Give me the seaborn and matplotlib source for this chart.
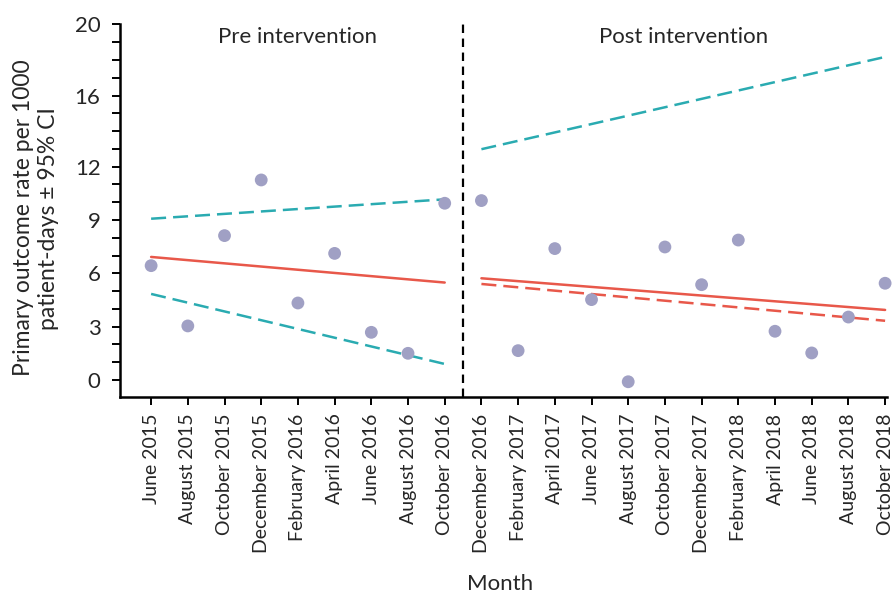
import matplotlib
matplotlib.use("Agg")
import matplotlib.pyplot as plt
import seaborn as sns
import pandas as pd
import numpy as np

# Monthly observations (every second month)
months = [
    "June 2015", "August 2015", "October 2015", "December 2015", "February 2016",
    "April 2016", "June 2016", "August 2016", "October 2016",
    "December 2016", "February 2017", "April 2017", "June 2017", "August 2017",
    "October 2017", "December 2017", "February 2018", "April 2018", "June 2018",
    "August 2018", "October 2018",
]
rates = [
    6.43, 3.04, 8.12, 11.25, 4.33, 7.12, 2.68, 1.50, 9.94,
    10.09, 1.65, 7.39, 4.52, -0.10, 7.48, 5.36, 7.87, 2.74, 1.52, 3.54, 5.44,
]

# Segment end points (month index, value)
pre_idx = [0, 8]
pre_fit = [6.92, 5.48]
pre_upper = [9.07, 10.16]
pre_lower = [4.84, 0.90]

post_idx = [9, 20]
post_fit = [5.72, 3.94]
post_counterfactual = [5.40, 3.33]
post_upper = [12.98, 18.17]

ytick_values = [0, 3, 6, 9, 12, 16, 20]

RED = "#e8584a"
TEAL = "#2aabb1"
DOT = "#a0a0c4"

sns.set_theme(style="ticks")
plt.rcParams["font.family"] = ["Lato", "DejaVu Sans"]

fig = plt.figure(figsize=(8.95, 5.95), dpi=100)
ax = fig.add_axes([0.134, 0.333, 0.857, 0.626])

points = pd.DataFrame({"idx": np.arange(len(months)), "rate": rates})
sns.scatterplot(data=points, x="idx", y="rate", ax=ax, color=DOT, s=85,
                edgecolor="none", zorder=3, clip_on=False)

def segment(xs, ys, color, dashes=None):
    seg = pd.DataFrame({"idx": xs, "val": ys})
    line = sns.lineplot(data=seg, x="idx", y="val", ax=ax, color=color, lw=1.8)
    ln = line.get_lines()[-1]
    if dashes is not None:
        ln.set_dashes(dashes)

segment(pre_idx, pre_fit, RED)
segment(pre_idx, pre_upper, TEAL, (6, 2.8))
segment(pre_idx, pre_lower, TEAL, (6, 2.8))
segment(post_idx, post_fit, RED)
segment(post_idx, post_counterfactual, RED, (6, 2.8))
segment(post_idx, post_upper, TEAL, (6, 2.8))

ax.axvline(8.5, color="black", lw=1.6, dashes=(3.8, 2.5))

ax.set_xlim(-0.85, 20.05)
ax.set_ylim(-0.95, 20)
ax.set_xticks(np.arange(len(months)))
ax.set_xticklabels(months, rotation=90, fontsize=14)
ticks = np.arange(0, 21)
ax.set_yticks(ticks)
ax.set_yticklabels([str(t) if t in ytick_values else "" for t in ticks], fontsize=16)
ax.tick_params(axis="both", direction="out", length=6, width=1.4, color="black")
ax.tick_params(axis="x", pad=6)
ax.tick_params(axis="y", pad=8)

for side in ("top", "right"):
    ax.spines[side].set_visible(False)
for side in ("left", "bottom"):
    ax.spines[side].set_linewidth(1.8)
    ax.spines[side].set_color("black")

ax.set_xlabel("Month", fontsize=16)
ax.xaxis.set_label_coords(0.496, -0.475)
ax.set_ylabel("Primary outcome rate per 1000\npatient-days ± 95% CI", fontsize=16.5)
ax.yaxis.set_label_coords(-0.080, 0.48)

ax.text(4.0, 19.3, "Pre intervention", ha="center", va="center", fontsize=16)
ax.text(14.5, 19.3, "Post intervention", ha="center", va="center", fontsize=16)

fig.savefig("out.png", dpi=100)
